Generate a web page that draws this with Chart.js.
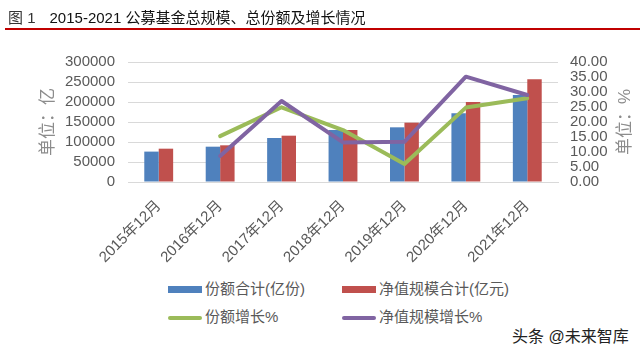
<!DOCTYPE html>
<html>
<head>
<meta charset="utf-8">
<script src="https://cdn.jsdelivr.net/npm/chart.js@4"></script>
<style>
  body { margin: 0; background: #fff; width: 640px; height: 349px; overflow: hidden; position: relative;
         font-family: "Liberation Sans", "Noto Sans CJK SC", sans-serif; }
  #wrap { position: absolute; left: 0; top: 0; width: 640px; height: 280px; }
  #title { position: absolute; left: 8px; top: 6px; font-size: 15px; color: #111; white-space: nowrap; }
  #title .fig { color: #333; margin-right: 14px; }
  #rule { position: absolute; left: 5px; right: 0; top: 28px; height: 2px; background: #c00000; }
  .lg { position: absolute; font-size: 15px; color: #595959; white-space: nowrap; line-height: 18px; }
  .lg i { position: absolute; left: 0; display: block; }
  #mark { position: absolute; left: 512px; top: 323px; font-size: 16px; color: #222; white-space: nowrap; }
</style>
</head>
<body>
<div id="wrap"><canvas id="chart"></canvas></div>
<div id="title"><span class="fig">图 1</span>2015-2021 公募基金总规模、总份额及增长情况</div>
<div id="rule"></div>
<div id="legend"></div>
<div id="mark">头条 @未来智库</div>
<script>
const months = ['2015年12月', '2016年12月', '2017年12月', '2018年12月', '2019年12月', '2020年12月', '2021年12月'];
// 亿份 / 亿元
const shareTotal = [76000, 88300, 110000, 130000, 136700, 171700, 217500];
const navTotal = [83300, 91700, 115800, 130000, 148300, 200000, 256700];
// %
const shareGrowth = [null, 15.3, 24.9, 17.3, 6.0, 24.8, 27.9];
const navGrowth = [null, 8.7, 27.0, 13.2, 13.4, 35.1, 29.0];

const leftTicks = [0, 50000, 100000, 150000, 200000, 250000, 300000];
const rightTicks = [0, 5, 10, 15, 20, 25, 30, 35, 40];

const font = '"Liberation Sans", "Noto Sans CJK SC", sans-serif';
const tickColor = '#595959';

// axis titles read bottom-to-top on both sides
const axisTitles = {
  id: 'axisTitles',
  afterDraw(chart) {
    const { ctx, chartArea } = chart;
    const cy = (chartArea.top + chartArea.bottom) / 2;
    ctx.save();
    ctx.font = '17px ' + font;
    ctx.fillStyle = '#8c8c8c';
    ctx.textAlign = 'center';
    ctx.textBaseline = 'middle';
    [[48, '单位：亿'], [625, '单位：%']].forEach(([x, t]) => {
      ctx.save();
      ctx.translate(x, cy);
      ctx.rotate(-Math.PI / 2);
      ctx.fillText(t, 0, 0);
      ctx.restore();
    });
    ctx.restore();
  }
};

const datasets = [
  { type: 'bar', label: '份额合计(亿份)', data: shareTotal, backgroundColor: '#4F81BD', yAxisID: 'y', order: 2 },
  { type: 'bar', label: '净值规模合计(亿元)', data: navTotal, backgroundColor: '#C0504D', yAxisID: 'y', order: 2 },
  { type: 'line', label: '份额增长%', data: shareGrowth, borderColor: '#9BBB59', yAxisID: 'y1', order: 1 },
  { type: 'line', label: '净值规模增长%', data: navGrowth, borderColor: '#8064A2', yAxisID: 'y1', order: 0 }
];
datasets.forEach(d => {
  if (d.type === 'bar') {
    d.categoryPercentage = 0.47;
    d.barPercentage = 1.0;
  } else {
    d.borderWidth = 4;
    d.pointRadius = 0;
    d.tension = 0;
    d.borderJoinStyle = 'round';
    d.borderCapStyle = 'round';
    d.spanGaps = false;
  }
});

new Chart(document.getElementById('chart'), {
  data: { labels: months, datasets: datasets },
  plugins: [axisTitles],
  options: {
    responsive: true,
    maintainAspectRatio: false,
    animation: false,
    events: [],
    layout: { padding: { top: 62, left: 0, right: 0, bottom: 0 } },
    plugins: { legend: { display: false }, tooltip: { enabled: false } },
    scales: {
      x: {
        grid: { display: false },
        border: { display: true, color: '#d9d9d9', width: 1 },
        ticks: { color: tickColor, font: { size: 15, family: font }, minRotation: 45, maxRotation: 45, autoSkip: false, padding: 7 },
        afterFit: s => { s.height = 98; }
      },
      y: {
        position: 'left',
        min: 0, max: 300000,
        grid: { color: '#d9d9d9', lineWidth: 1, drawTicks: false },
        border: { display: false },
        ticks: { color: tickColor, font: { size: 15, family: font }, padding: 13, autoSkip: false, callback: v => String(v) },
        afterBuildTicks: s => { s.ticks = leftTicks.map(v => ({ value: v })); },
        afterFit: s => { s.width = 128; }
      },
      y1: {
        position: 'right',
        min: 0, max: 40,
        grid: { drawOnChartArea: false, drawTicks: false },
        border: { display: false },
        ticks: { color: tickColor, font: { size: 15, family: font }, padding: 12, autoSkip: false, callback: v => Number(v).toFixed(2) },
        afterBuildTicks: s => { s.ticks = rightTicks.map(v => ({ value: v })); },
        afterFit: s => { s.width = 82; }
      }
    }
  }
});

// legend, 2 x 2 like the original
const legendPos = [[168, 280], [342, 280], [168, 308], [342, 308]];
const legend = document.getElementById('legend');
datasets.forEach((d, i) => {
  const el = document.createElement('div');
  el.className = 'lg';
  el.style.left = legendPos[i][0] + 'px';
  el.style.top = legendPos[i][1] + 'px';
  el.style.paddingLeft = '37px';
  const sw = document.createElement('i');
  sw.style.width = '34px';
  if (d.type === 'bar') {
    sw.style.height = '7px';
    sw.style.top = '6px';
    sw.style.background = d.backgroundColor;
  } else {
    sw.style.height = '4px';
    sw.style.top = '8px';
    sw.style.borderRadius = '2px';
    sw.style.background = d.borderColor;
  }
  el.appendChild(sw);
  el.appendChild(document.createTextNode(d.label));
  legend.appendChild(el);
});
</script>
</body>
</html>
